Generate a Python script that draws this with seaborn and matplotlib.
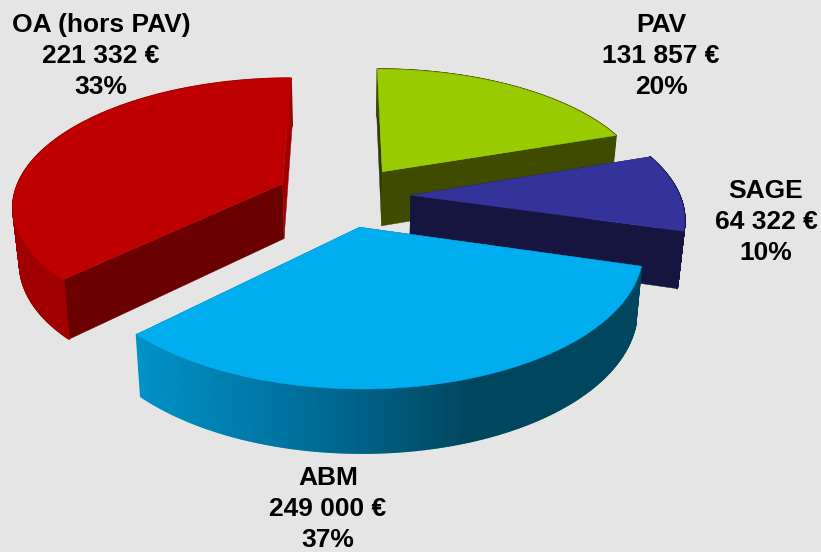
import matplotlib

matplotlib.use("Agg")
import matplotlib.pyplot as plt
from matplotlib.collections import PolyCollection
import numpy as np
import seaborn as sns

# Data, in the order the slices run clockwise from the top.
# The picture gives ABM the smaller wedge and OA the larger one, whatever the labels say.
names = ["PAV", "SAGE", "ABM", "OA (hors PAV)"]
wedge_values = [131857, 64322, 221332, 249000]
amount_labels = ["131 857 €", "64 322 €", "249 000 €", "221 332 €"]
percent_labels = ["20%", "10%", "37%", "33%"]

# Colours
top_colors = ["#99CC00", "#333399", "#00AEEF", "#BE0000"]
start_cut_colors = ["#2F3900", "#15153F", "#005F85", "#6B0000"]
end_cut_colors = ["#3F4C00", "#15153F", "#005F85", "#A00000"]
wall_colors = [
    ["#3F4C00", "#3F4C00"],
    ["#15153F", "#15153F"],
    ["#0092C8", "#006E9A", "#00465F", "#00465F"],
    ["#A00000", "#A00000"],
]
background = "#E5E5E5"

# Projection of the tilted disc, in pixels
rx, ry, persp = 269.0, 125.6, 0.156
center = np.array([345.0, 196.0])
explode = [0.245, 0.245, 0.245, 0.255]
explode_turn = [0, 0, 2, 0]
thickness = 55.5

label_pos = [(661, 56), (766, 222), (328, 509), (101, 56)]
draw_order = [0, 1, 3, 2]


def project(x, y):
    w = 1 + persp * y
    return center + np.column_stack([rx * x / w, -ry * y / w])


def drop(pts, y):
    # Move top face points down to the bottom face
    out = pts.copy()
    out[:, 0] = 350 + (pts[:, 0] - 350) * 0.98
    out[:, 1] = pts[:, 1] + thickness * (1 - 0.125 * y)
    return out


def draw_slice(ax, i, start, end):
    mid = np.radians((start + end) / 2 + explode_turn[i])
    x0, y0 = explode[i] * np.sin(mid), explode[i] * np.cos(mid)
    apex = project(np.array([x0]), np.array([y0]))

    t = np.radians(np.linspace(start, end, 240))
    x, y = x0 + np.sin(t), y0 + np.cos(t)
    rim = project(x, y)
    rim_low = drop(rim, y)
    apex_low = drop(apex, np.array([y0]))

    # Cut faces
    for k, col in ((0, start_cut_colors[i]), (-1, end_cut_colors[i])):
        face = np.vstack([apex, rim[k], rim_low[k], apex_low])
        ax.fill(face[:, 0], face[:, 1], color=col, lw=0.3)

    # Rim, shaded from left to right
    palette = sns.blend_palette(wall_colors[i], 256)
    quads, colors = [], []
    for k in range(len(t) - 1):
        quads.append([rim[k], rim[k + 1], rim_low[k + 1], rim_low[k]])
        pos = (rim[k, 0] - rim[:, 0].min()) / (rim[:, 0].max() - rim[:, 0].min())
        colors.append(palette[int(pos * 255)])
    ax.add_collection(
        PolyCollection(quads, facecolors=colors, edgecolors=colors, linewidths=1.2)
    )

    # Top face
    top = np.vstack([apex, rim])
    ax.fill(top[:, 0], top[:, 1], color=top_colors[i], lw=0.3)


def main():
    sns.set_theme(style="white")
    plt.rcParams["font.family"] = ["Liberation Sans", "DejaVu Sans"]

    fig, ax = plt.subplots(figsize=(8.21, 5.52), dpi=100)
    fig.patch.set_facecolor(background)
    ax.set_position([0, 0, 1, 1])
    ax.axis("off")

    edges = np.concatenate([[0], np.cumsum(wedge_values)]) / sum(wedge_values) * 360

    for i in draw_order:
        draw_slice(ax, i, edges[i], edges[i + 1])

    for i in range(len(names)):
        ax.text(
            label_pos[i][0],
            label_pos[i][1],
            f"{names[i]}\n{amount_labels[i]}\n{percent_labels[i]}",
            ha="center",
            va="center",
            fontsize=19,
            fontweight="bold",
            color="black",
            linespacing=1.38,
        )

    ax.set_xlim(0, 821)
    ax.set_ylim(552, 0)
    fig.savefig("out.png", dpi=100, facecolor=background)


if __name__ == "__main__":
    main()
